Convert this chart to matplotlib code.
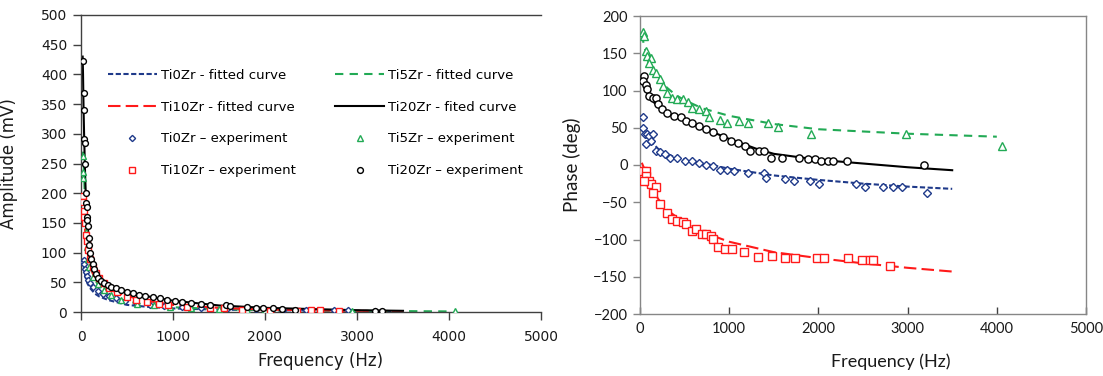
import numpy as np
import matplotlib
matplotlib.use("Agg")
import matplotlib.pyplot as plt

# ---------------- amplitude data ----------------
amp_ti0_f = [25, 30, 36, 45, 54, 65, 80, 100, 130, 180, 240, 300, 380, 480, 600, 750, 900, 1100,
             1300, 1600, 1900, 2200, 2450, 2750, 2900, 3200]
amp_ti0 = [85, 88, 80, 72, 68, 60, 54, 48, 42, 36, 31, 27, 23, 19, 15, 12, 10, 8,
           7, 6, 5, 4, 4, 3, 3, 1]
amp_ti5_f = [20, 22, 24, 40, 50, 60, 72, 90, 126, 180, 250, 324, 430, 610, 790, 970, 1200,
             1500, 1800, 2000, 2950, 4060]
amp_ti5 = [262, 235, 225, 160, 135, 110, 90, 75, 59, 47, 37, 28, 20, 14, 11, 8, 6,
           5, 4, 3, 2, 1]
amp_ti10_f = [22, 25, 28, 32, 40, 50, 62, 76, 95, 125, 160, 200, 250, 300, 390, 500, 600, 720,
              850, 950, 1150, 1400, 1550, 1750, 2050, 2350, 2500, 2600, 2800]
amp_ti10 = [195, 185, 170, 160, 150, 130, 120, 105, 90, 75, 65, 57, 48, 40, 33, 26, 21, 17,
            14, 12, 9, 7, 6, 4, 2, 2, 3, 3, 1]
amp_ti20_f = [25, 30, 32, 38, 40, 45, 52, 58, 62, 65, 70, 75, 82, 90, 98, 110, 125, 145, 165,
              190, 220, 250, 290, 330, 380, 430, 500, 560, 630, 700, 780, 860, 940, 1020, 1100,
              1200, 1300, 1400, 1580, 1620, 1800, 1900, 1980, 2090, 2180, 2330, 3200, 3270]
amp_ti20 = [422, 368, 340, 292, 285, 250, 200, 183, 177, 160, 155, 145, 125, 112, 100, 90, 80,
            72, 64, 57, 52, 48, 45, 42, 40, 37, 34, 32, 29, 27, 25, 23, 21, 19, 17, 15, 14, 12,
            11, 10, 8, 7, 6, 6, 5, 4, 2, 1]

fit_amp_ti0_f = [20, 30, 50, 70, 100, 150, 200, 300, 500, 700, 1000, 1500, 2000, 3000, 3500]
fit_amp_ti0 = [90, 76, 58, 48, 40, 31, 26, 20, 12, 9, 6, 4, 3, 2, 1]
fit_amp_ti5_f = [20, 30, 40, 60, 80, 100, 150, 200, 300, 500, 700, 1000, 1500, 2000, 3000, 4000]
fit_amp_ti5 = [270, 250, 200, 130, 95, 78, 55, 42, 28, 18, 12, 8, 5, 3, 2, 1]
fit_amp_ti10_f = [20, 30, 40, 60, 100, 150, 200, 300, 500, 700, 1000, 1500, 2000, 2500, 3500]
fit_amp_ti10 = [200, 170, 145, 110, 75, 58, 48, 38, 27, 19, 12, 7, 4, 3, 1]
fit_amp_ti20_f = [18, 22, 28, 35, 45, 55, 70, 90, 120, 160, 220, 300, 400, 500, 700, 1000,
                  1500, 2000, 2500, 3000, 3500]
fit_amp_ti20 = [430, 400, 340, 290, 230, 185, 150, 115, 90, 70, 56, 46, 39, 34, 27, 19,
                11, 7, 5, 3, 2]

# ---------------- phase data ----------------
ph_ti0_f = [36, 36, 55, 83, 103, 143, 63, 123, 182, 222, 281, 341, 420, 500, 579, 658, 738, 817,
            896, 975, 1055, 1213, 1392, 1411, 1630, 1729, 1907, 2006, 2423, 2522, 2720, 2839,
            2938, 3216]
ph_ti0 = [64, 49, 42, 41, 39, 41, 28, 32, 19, 17, 15, 10, 9, 6, 5, 3, 0, -1,
          -7, -7, -8, -11, -11, -17, -19, -22, -22, -25, -25, -29, -29, -29,
          -29, -38]
ph_ti5_f = [32, 44, 63, 83, 123, 103, 143, 182, 222, 262, 301, 361, 420, 480, 539, 579, 658, 738,
            777, 896, 975, 1115, 1213, 1431, 1550, 1915, 2978, 4060]
ph_ti5 = [178, 173, 153, 146, 144, 137, 128, 124, 115, 106, 97, 90, 88, 88, 84, 77, 75, 73,
          65, 61, 57, 59, 57, 57, 51, 42, 42, 25]
ph_ti10_f = [32, 63, 71, 103, 123, 44, 182, 151, 222, 301, 361, 420, 480, 519, 579, 626, 698, 738,
             797, 817, 869, 956, 1035, 1166, 1324, 1483, 1630, 1741, 1987, 2066, 2331, 2494,
             2581, 2609, 2807]
ph_ti10 = [-8, -8, -15, -21, -25, -21, -30, -38, -53, -64, -73, -75, -76, -79, -88, -86, -92, -93,
           -95, -99, -110, -113, -113, -117, -124, -122, -125, -125, -125, -125, -125, -128,
           -128, -128, -136]
ph_ti20_f = [44, 32, 63, 83, 103, 143, 182, 202, 242, 301, 381, 460, 519, 579, 658, 738, 817, 936,
             1015, 1094, 1173, 1233, 1332, 1392, 1471, 1590, 1788, 1887, 1967, 2026, 2105, 2165,
             2323, 3184]
ph_ti20 = [120, 113, 108, 102, 93, 90, 90, 82, 75, 70, 66, 64, 59, 57, 53, 48, 44, 38,
           32, 30, 25, 19, 19, 19, 10, 10, 10, 8, 8, 6, 5, 5,
           5, 0]

fit_ph_ti0_f = [20, 100, 200, 300, 500, 800, 1000, 1500, 2000, 2500, 3000, 3500]
fit_ph_ti0 = [50, 35, 22, 14, 7, 0, -5, -14, -20, -25, -29, -32]
fit_ph_ti5_f = [20, 50, 100, 200, 300, 400, 500, 700, 1000, 1500, 2000, 2500, 3000, 3500, 4000]
fit_ph_ti5 = [175, 158, 140, 120, 104, 94, 87, 76, 66, 55, 48, 45, 42, 40, 38]
fit_ph_ti10_f = [20, 100, 200, 300, 500, 700, 1000, 1500, 2000, 2500, 3000, 3500]
fit_ph_ti10 = [3, -20, -45, -60, -78, -90, -103, -117, -125, -132, -138, -143]
fit_ph_ti20_f = [20, 100, 200, 300, 500, 700, 1000, 1300, 1500, 2000, 2500, 3000, 3500]
fit_ph_ti20 = [112, 92, 78, 70, 60, 50, 35, 22, 15, 7, 2, -3, -7]

NAVY = '#1F3A8A'
GREEN = '#22AA55'
RED = '#FF1A1A'
BLACK = '#000000'

styles = {
    'Ti0Zr': dict(color=NAVY, dashes=(2.5, 1.2), marker='D'),
    'Ti5Zr': dict(color=GREEN, dashes=(4, 3), marker='^'),
    'Ti10Zr': dict(color=RED, dashes=(6, 2.5), marker='s'),
    'Ti20Zr': dict(color=BLACK, dashes=None, marker='o'),
}
marker_scale = {'D': 0.75, '^': 1.0, 's': 1.1, 'o': 1.0}


def draw_fit(ax, f, y, name):
    st = styles[name]
    line, = ax.plot(f, y, color=st['color'], lw=1.5, zorder=2)
    if st['dashes'] is not None:
        line.set_dashes(st['dashes'])
    return line


def draw_exp(ax, f, y, name, ms):
    st = styles[name]
    m = st['marker']
    pts, = ax.plot(f, y, ls='none', marker=m, ms=ms * marker_scale[m], mfc='white',
                   mec=st['color'], mew=1.0, zorder=3)
    return pts


fig = plt.figure(figsize=(11.03, 3.76), dpi=100)

# ---------------- left: amplitude ----------------
ax1 = fig.add_axes([81 / 1103, 1 - 312 / 376, (541 - 81) / 1103, (312 - 15) / 376])
l0 = draw_fit(ax1, fit_amp_ti0_f, fit_amp_ti0, 'Ti0Zr')
l5 = draw_fit(ax1, fit_amp_ti5_f, fit_amp_ti5, 'Ti5Zr')
l10 = draw_fit(ax1, fit_amp_ti10_f, fit_amp_ti10, 'Ti10Zr')
e0 = draw_exp(ax1, amp_ti0_f, amp_ti0, 'Ti0Zr', 4.2)
e5 = draw_exp(ax1, amp_ti5_f, amp_ti5, 'Ti5Zr', 4.2)
e10 = draw_exp(ax1, amp_ti10_f, amp_ti10, 'Ti10Zr', 4.2)
l20 = draw_fit(ax1, fit_amp_ti20_f, fit_amp_ti20, 'Ti20Zr')
e20 = draw_exp(ax1, amp_ti20_f, amp_ti20, 'Ti20Zr', 4.2)

ax1.set_xlim(0, 5000)
ax1.set_ylim(0, 500)
ax1.set_xticks(range(0, 5001, 1000))
ax1.set_yticks(range(0, 501, 50))
ax1.spines['right'].set_visible(False)
for s in ['left', 'bottom', 'top']:
    ax1.spines[s].set_color('#404040')
    ax1.spines[s].set_linewidth(1.0)
ax1.tick_params(direction='out', length=6, width=1.0, color='#404040', labelsize=10,
                pad=4, labelcolor='#1a1a1a')
ax1.tick_params(axis='x', pad=7)
ax1.set_xlabel('Frequency (Hz)', fontsize=12, color='#1a1a1a')
ax1.set_ylabel('Amplitude (mV)', fontsize=12, color='#1a1a1a')
ax1.xaxis.set_label_coords((321 - 81) / 460, -(352 - 312) / 297)
ax1.yaxis.set_label_coords(-(81 - 18) / 460, 0.5)

handles = [l0, l10, e0, e10, l5, l20, e5, e20]
labels = ['Ti0Zr - fitted curve', 'Ti10Zr - fitted curve', 'Ti0Zr \u2013 experiment',
          'Ti10Zr \u2013 experiment', 'Ti5Zr - fitted curve', 'Ti20Zr - fited curve',
          'Ti5Zr \u2013 experiment', 'Ti20Zr \u2013 experiment']
ax1.legend(handles, labels, ncol=2, loc='upper left', frameon=False,
           bbox_to_anchor=(108 / 1103, 1 - 69 / 376), bbox_transform=fig.transFigure,
           borderaxespad=0, borderpad=0, fontsize=9.5, handlelength=3.7, handletextpad=0.3,
           labelspacing=1.42, columnspacing=3.0, numpoints=1)

# ---------------- right: phase ----------------
ax2 = fig.add_axes([640 / 1103, 1 - 314 / 376, (1086 - 640) / 1103, (314 - 16) / 376])
draw_fit(ax2, fit_ph_ti5_f, fit_ph_ti5, 'Ti5Zr')
draw_fit(ax2, fit_ph_ti0_f, fit_ph_ti0, 'Ti0Zr')
draw_fit(ax2, fit_ph_ti10_f, fit_ph_ti10, 'Ti10Zr')
draw_fit(ax2, fit_ph_ti20_f, fit_ph_ti20, 'Ti20Zr')
draw_exp(ax2, ph_ti5_f, ph_ti5, 'Ti5Zr', 5.2)
draw_exp(ax2, ph_ti0_f, ph_ti0, 'Ti0Zr', 5.2)
draw_exp(ax2, ph_ti10_f, ph_ti10, 'Ti10Zr', 5.2)
draw_exp(ax2, ph_ti20_f, ph_ti20, 'Ti20Zr', 5.2)

ax2.set_xlim(0, 5000)
ax2.set_ylim(-200, 200)
ax2.set_xticks(range(0, 5001, 1000))
ax2.set_yticks(range(-200, 201, 50))
for s in ax2.spines.values():
    s.set_color('#868686')
    s.set_linewidth(1.0)
ax2.tick_params(axis='y', direction='out', length=5, width=1.0, color='#868686', pad=4)
ax2.tick_params(axis='x', direction='in', length=5, width=1.0, color='#404040', pad=6)
for lab in ax2.get_xticklabels() + ax2.get_yticklabels():
    lab.set_fontfamily('Lato')
    lab.set_fontsize(10.5)
    lab.set_color('#1a1a1a')
ax2.set_xlabel('Frequency (Hz)', fontsize=13, family='Lato', color='#1a1a1a')
ax2.set_ylabel('Phase (deg)', fontsize=13.5, family='Lato', color='#1a1a1a')
ax2.xaxis.set_label_coords((891 - 640) / 446, -(353 - 314) / 298)
ax2.yaxis.set_label_coords(-(640 - 581) / 446, 0.5)

fig.savefig('out.png', dpi=100)
